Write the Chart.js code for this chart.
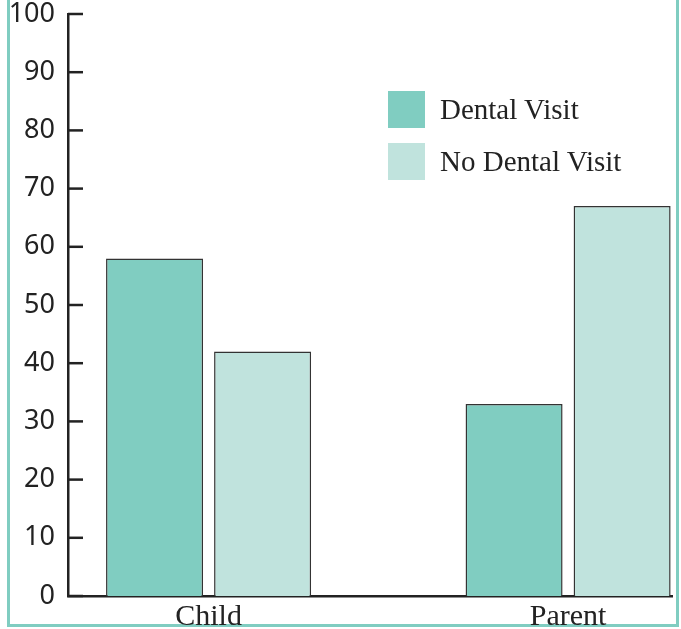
<!DOCTYPE html>
<html>
<head>
<meta charset="utf-8">
<script src="https://cdn.jsdelivr.net/npm/chart.js@4"></script>
<style>
  html, body { margin: 0; padding: 0; background: #fff; }
  #wrap { position: relative; width: 681px; height: 629px; overflow: hidden; }
  #frame {
    position: absolute; left: 7px; top: -10px; width: 666px; height: 634px;
    border-left: 3px solid #80cdc1; border-right: 3px solid #80cdc1; border-bottom: 3px solid #80cdc1;
  }
  #chart { position: absolute; left: 0; top: 0; }
  .legend { position: absolute; left: 388px; font-family: "Liberation Serif", serif; font-size: 29px; color: #222; }
  .legend div { position: relative; height: 52px; }
  .legend span.box { position: absolute; left: 0; top: 0; width: 37px; height: 37px; }
  .legend span.txt { position: absolute; left: 52px; top: 0px; line-height: 36px; white-space: nowrap; }
</style>
</head>
<body>
<div id="wrap">
  <div id="frame"></div>
  <canvas id="chart" width="681" height="629"></canvas>
  <div class="legend" id="legend" style="top:91px"></div>
</div>
<script>
const categories = ['Child', 'Parent'];
const dentalVisit = [58, 33];
const noDentalVisit = [42, 67];
const yTicks = [0, 10, 20, 30, 40, 50, 60, 70, 80, 90, 100];
const seriesNames = ['Dental Visit', 'No Dental Visit'];
const seriesColors = ['#80cdc1', '#c0e3dd'];

// legend
const legendEl = document.getElementById('legend');
seriesNames.forEach((name, i) => {
  const row = document.createElement('div');
  row.innerHTML = `<span class="box" style="background:${seriesColors[i]}"></span><span class="txt">${name}</span>`;
  legendEl.appendChild(row);
});

// short tick marks pointing inside the plot
const innerTicks = {
  id: 'innerTicks',
  afterDraw(chart) {
    const ctx = chart.ctx;
    const y = chart.scales.y;
    ctx.save();
    ctx.strokeStyle = '#222';
    ctx.lineWidth = 2.5;
    yTicks.forEach(t => {
      const py = y.getPixelForValue(t);
      ctx.beginPath();
      ctx.moveTo(y.right, py);
      ctx.lineTo(y.right + 15, py);
      ctx.stroke();
    });
    ctx.restore();
  }
};

const toPoints = arr => arr.map((v, i) => ({ x: i, y: v }));

new Chart(document.getElementById('chart'), {
  type: 'bar',
  data: {
    datasets: [
      { label: seriesNames[0], data: toPoints(dentalVisit), backgroundColor: seriesColors[0] },
      { label: seriesNames[1], data: toPoints(noDentalVisit), backgroundColor: seriesColors[1] }
    ]
  },
  options: {
    responsive: false,
    animation: false,
    layout: { padding: { top: 14, right: 9, left: 0, bottom: 0 } },
    datasets: {
      bar: {
        categoryPercentage: 0.601,
        barPercentage: 0.898,
        borderWidth: 1.5,
        borderColor: '#333'
      }
    },
    plugins: { legend: { display: false }, tooltip: { enabled: false } },
    scales: {
      x: {
        type: 'linear',
        min: -0.391,
        max: 1.289,
        bounds: 'data',
        offset: false,
        grid: { display: false, drawTicks: false },
        border: { display: true, color: '#222', width: 2.5 },
        ticks: {
          autoSkip: false,
          maxRotation: 0,
          padding: 3,
          color: '#222',
          font: { family: 'Liberation Serif', size: 30 },
          callback: v => categories[v] || ''
        },
        afterBuildTicks: s => { s.ticks = categories.map((c, i) => ({ value: i })); },
        afterFit: s => { s.height = 33; s.paddingLeft = 0; s.paddingRight = 0; }
      },
      y: {
        min: 0,
        max: 100,
        grid: { display: false, drawTicks: false },
        border: { display: true, color: '#222', width: 2.5 },
        ticks: {
          stepSize: 10,
          padding: 13,
          color: '#222',
          font: { family: 'Noto Sans', size: 27 }
        },
        afterFit: s => { s.width = 68; s.paddingTop = 0; s.paddingBottom = 0; }
      }
    }
  },
  plugins: [innerTicks]
});
</script>
</body>
</html>
